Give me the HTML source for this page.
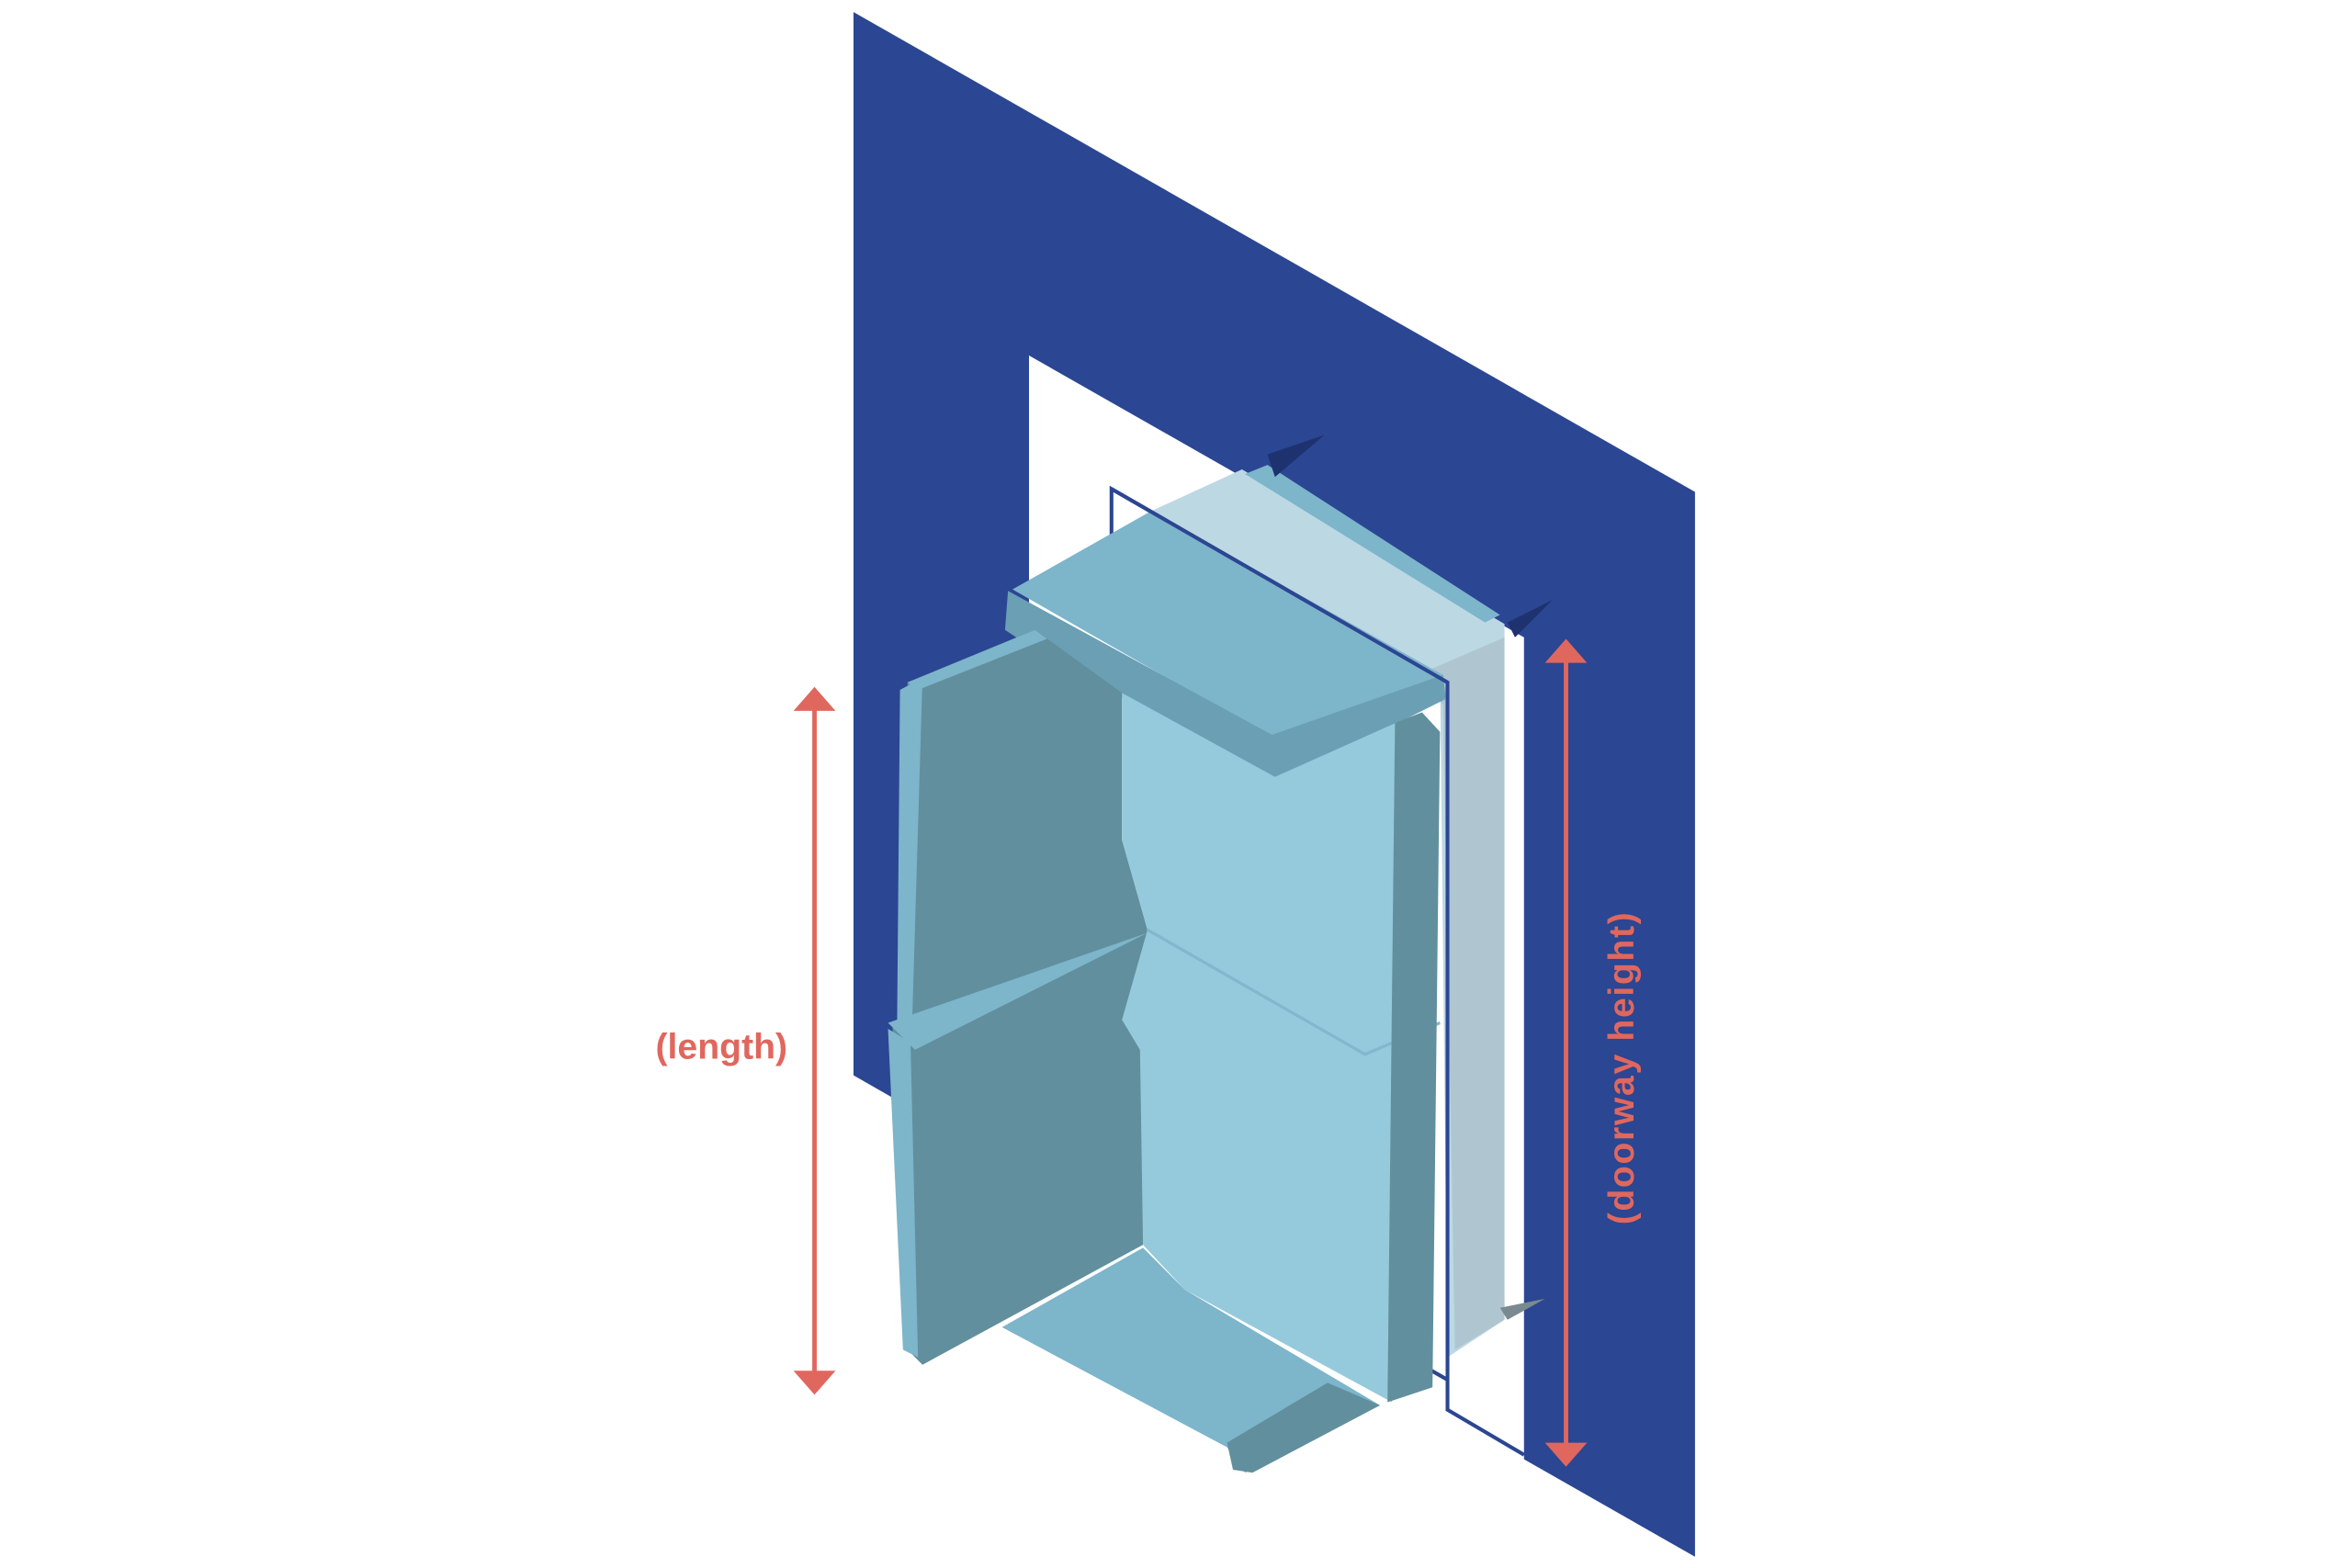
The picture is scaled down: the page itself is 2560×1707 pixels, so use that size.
<!DOCTYPE html>
<html><head><meta charset="utf-8"><style>
html,body{margin:0;padding:0;background:#fff;width:2560px;height:1707px;overflow:hidden}
svg{display:block}
</style></head><body>
<svg width="2560" height="1707" viewBox="0 0 1568 1045.5" xmlns="http://www.w3.org/2000/svg">
<rect x="0" y="0" width="1568" height="1046" fill="#fff"/>
<!-- wall -->
<polygon points="569,8 1130,328 1130,1038 1016,973 1016,425 686,237 686,784 569,717" fill="#2b4692"/>
<!-- back translucent panel -->
<polygon points="767,341 828,313 1003,416 1003,880 965,905 960,449" fill="#bcd8e3"/>
<polygon points="945,450 1003,425 1003,880 970,900 962,470" fill="#afc6d0"/>
<polygon points="830,316 845,310 1000,410 990,415" fill="#7db5cb"/>
<polygon points="845,303 883,290 850,318" fill="#1e3270"/>
<polygon points="1005,415 1035,400 1010,425" fill="#1e3270"/>
<polygon points="1000,872 1030,866 1005,880" fill="#7a8a90"/>
<!-- door frame outline -->
<polyline points="741,360 741,326 965,455 965,940 1016,970" fill="none" stroke="#2b4692" stroke-width="2.5"/>
<line x1="930" y1="900" x2="965" y2="920" stroke="#2b4692" stroke-width="2.5"/>
<!-- top arm -->
<polygon points="675,393 767,341 962,450 848,492" fill="#7db5cb"/>
<polygon points="672,394 848,490 962,450 964,466 860,518 848,518 700,440 670,420" fill="#6a9fb4"/>
<line x1="741" y1="326" x2="965" y2="455" stroke="#2b4692" stroke-width="2.5"/>
<!-- left back upper -->
<polygon points="605,455 690,420 748,462 748,560 765,620 600,690 605,600" fill="#618f9d"/>
<polygon points="600,460 615,452 608,685 598,690" fill="#7db5cb"/>
<polygon points="605,455 690,420 698,426 612,460" fill="#7db5cb"/>
<!-- left back lower -->
<polygon points="595,685 765,620 762,830 615,910 605,900 600,800" fill="#618f9d"/>
<polygon points="592,682 765,622 610,700" fill="#7db5cb"/>
<polygon points="592,686 607,695 612,905 602,900" fill="#7db5cb"/>
<!-- bottom arm -->
<polygon points="668,885 762,832 790,860 920,937 830,982 818,965" fill="#7db5cb"/>
<polygon points="818,962 885,922 920,937 835,982 822,980" fill="#618f9d"/>
<!-- seat -->
<polygon points="748,462 850,518 935,480 928,935 790,860 762,830 760,700 748,680 765,620 748,560" fill="#94cadc"/>
<polyline points="765,620 910,703 960,682" fill="none" stroke="#82b8cb" stroke-width="2"/>
<!-- right cushion side -->
<polygon points="930,482 948,475 960,488 955,925 925,935" fill="#618f9d"/>
<!-- arrows -->
<g stroke="#e0675e" stroke-width="3" fill="#e0675e">
<line x1="543" y1="470" x2="543" y2="918"/>
<polygon points="529,474 557,474 543,458" stroke="none"/>
<polygon points="529,914 557,914 543,930" stroke="none"/>
<line x1="1044" y1="438" x2="1044" y2="966"/>
<polygon points="1030,442 1058,442 1044,426" stroke="none"/>
<polygon points="1030,962 1058,962 1044,978" stroke="none"/>
</g>
<text x="481" y="706" text-anchor="middle" font-family="Liberation Sans, sans-serif" font-weight="bold" font-size="24" fill="#e0675e">(length)</text>
<text transform="translate(1089,712) rotate(-90)" text-anchor="middle" font-family="Liberation Sans, sans-serif" font-weight="bold" font-size="24" fill="#e0675e" letter-spacing="1">(doorway height)</text>
</svg>
</body></html>
